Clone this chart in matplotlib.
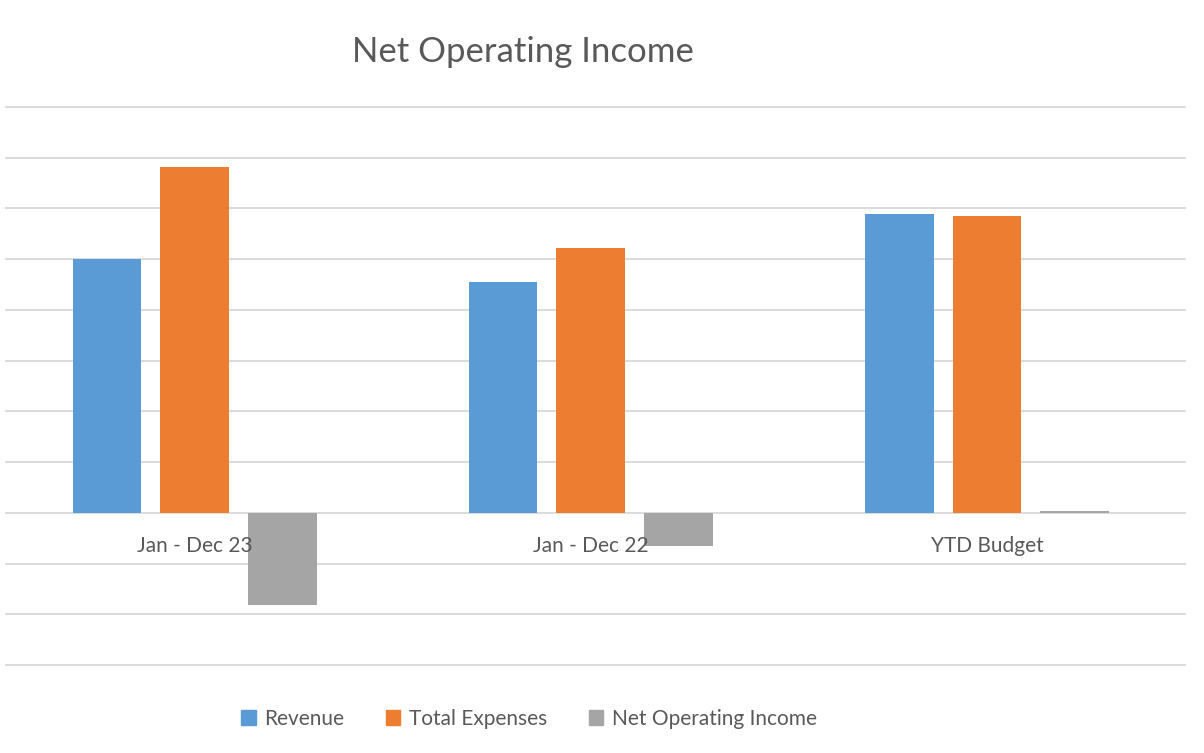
import matplotlib.pyplot as plt
import matplotlib.transforms as mtransforms
from matplotlib.patches import Patch
import numpy as np

categories = ['Jan - Dec 23', 'Jan - Dec 22', 'YTD Budget']
series_names = ['Revenue', 'Total Expenses', 'Net Operating Income']
revenue = [5.0, 4.55, 5.89]
expenses = [6.81, 5.22, 5.85]
net_income = [-1.81, -0.65, 0.04]

colors = ['#5b9bd5', '#ed7d31', '#a5a5a5']
text_color = '#595959'

plt.rcParams['font.family'] = ['Lato', 'DejaVu Sans']

fig = plt.figure(figsize=(12.04, 7.53), dpi=100)
ax = fig.add_axes([6 / 1204, 88 / 753, 1179 / 1204, 558 / 753])

x = np.arange(len(categories))
width = 0.174
step = 0.222
for i, (vals, c) in enumerate(zip([revenue, expenses, net_income], colors)):
    ax.bar(x + (i - 1) * step, vals, width, color=c, zorder=3)

ax.set_xlim(-0.477, 2.5)
ax.set_ylim(-3, 8)
for y in range(-3, 9):
    ax.axhline(y, color='#d9d9d9', lw=1.3, zorder=1, clip_on=False)

ax.set_xticks([])
ax.set_yticks([])
for s in ax.spines.values():
    s.set_visible(False)

# category labels sit just under the zero line
off = mtransforms.offset_copy(ax.transData, fig=fig, x=0, y=-33, units='dots')
for xi, lab in zip(x, categories):
    ax.text(xi, 0, lab, ha='center', va='center', fontsize=15,
            color=text_color, transform=off)

fig.text(523 / 1204, 1 - 52 / 753, 'Net Operating Income', ha='center',
         va='center', fontsize=25, color=text_color)

handles = [Patch(color=c) for c in colors]
fig.legend(handles, series_names, loc='center', bbox_to_anchor=(529 / 1204, 1 - 719 / 753),
           ncol=3, frameon=False, fontsize=15, labelcolor=text_color,
           handlelength=0.7, handleheight=0.7, handletextpad=0.4, columnspacing=2.0)

fig.savefig('out.png', dpi=100, facecolor='white')
